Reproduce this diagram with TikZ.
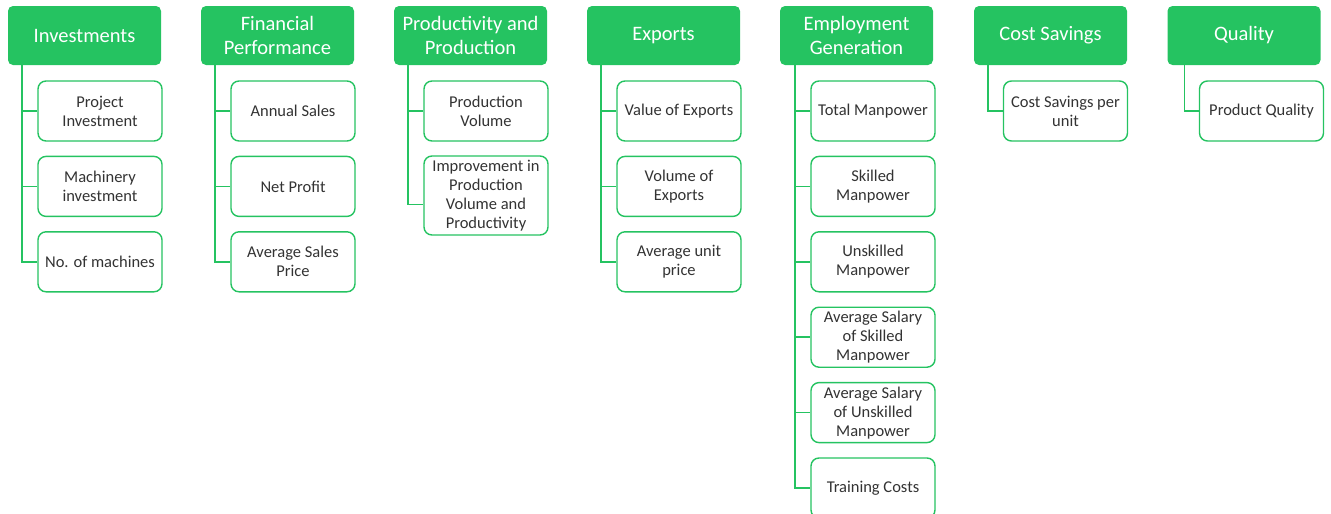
\documentclass[tikz,border=0pt]{standalone}
\usepackage{fontspec}
\setmainfont{Carlito}
\definecolor{gr}{RGB}{37,195,97}
\definecolor{tx}{RGB}{51,51,51}
\begin{document}
\begin{tikzpicture}[x=1pt,y=-1pt,
 head/.style={fill=gr, draw=none, rounded corners=5pt, minimum width=153pt, minimum height=59pt, inner sep=0pt, text=white, align=center, font=\fontsize{20.5}{23.5}\selectfont},
 item/.style={draw=gr, line width=1.4pt, fill=white, rounded corners=8pt, minimum width=124pt, minimum height=60pt, inner sep=0pt, text=tx, align=center, font=\fontsize{16.5}{19}\selectfont},
 link/.style={draw=gr, line width=1.6pt}]
\useasboundingbox (0,0) rectangle (1331,514);
\clip (0,0) rectangle (1331,514);
% headers
\node[head] (h1) at (84.5,35.5) {Investments};
\node[head] (h2) at (277.5,35.5) {Financial\\Performance};
\node[head] (h3) at (470.5,35.5) {Productivity and\\Production};
\node[head] (h4) at (663.5,35.5) {Exports};
\node[head] (h5) at (856.5,35.5) {Employment\\Generation};
\node[head] (h6) at (1050.5,35.5) {Cost Savings};
\node[head] (h7) at (1244,35.5) {Quality};
% children
\node[item] (c11) at (100,111) {Project\\Investment};
\node[item] (c12) at (100,186.4) {Machinery\\investment};
\node[item] (c13) at (100,261.8) {No. of machines};
\node[item] (c21) at (293,111) {Annual Sales};
\node[item] (c22) at (293,186.4) {Net Profit};
\node[item] (c23) at (293,261.8) {Average Sales\\Price};
\node[item] (c31) at (486,111) {Production\\Volume};
\node[item, minimum height=79pt] (c32) at (486,195.5) {Improvement in\\Production\\Volume and\\Productivity};
\node[item] (c41) at (679,111) {Value of Exports};
\node[item] (c42) at (679,186.4) {Volume of\\Exports};
\node[item] (c43) at (679,261.8) {Average unit\\price};
\node[item] (c51) at (873,111) {Total Manpower};
\node[item] (c52) at (873,186.4) {Skilled\\Manpower};
\node[item] (c53) at (873,261.8) {Unskilled\\Manpower};
\node[item] (c54) at (873,337.2) {Average Salary\\of Skilled\\Manpower};
\node[item] (c55) at (873,412.6) {Average Salary\\of Unskilled\\Manpower};
\node[item] (c56) at (873,488) {Training Costs};
\node[item] (c61) at (1065.5,111) {Cost Savings per\\unit};
\node[item] (c71) at (1261.5,111) {Product Quality};
% trunks
\coordinate (t1) at ([xshift=14pt]h1.south west);
\coordinate (t2) at ([xshift=14pt]h2.south west);
\coordinate (t3) at ([xshift=14pt]h3.south west);
\coordinate (t4) at ([xshift=14pt]h4.south west);
\coordinate (t5) at ([xshift=15pt]h5.south west);
\coordinate (t6) at ([xshift=14pt]h6.south west);
\coordinate (t7) at ([xshift=17pt]h7.south west);
\foreach \c in {c11,c12,c13} \draw[link] (t1) |- (\c.west);
\foreach \c in {c21,c22,c23} \draw[link] (t2) |- (\c.west);
\foreach \c in {c31} \draw[link] (t3) |- (\c.west);
\draw[link] (t3) |- ([yshift=-9pt]c32.west);
\foreach \c in {c41,c42,c43} \draw[link] (t4) |- (\c.west);
\foreach \c in {c51,c52,c53,c54,c55,c56} \draw[link] (t5) |- (\c.west);
\draw[link] (t6) |- (c61.west);
\draw[link] (t7) |- (c71.west);
\end{tikzpicture}
\end{document}
